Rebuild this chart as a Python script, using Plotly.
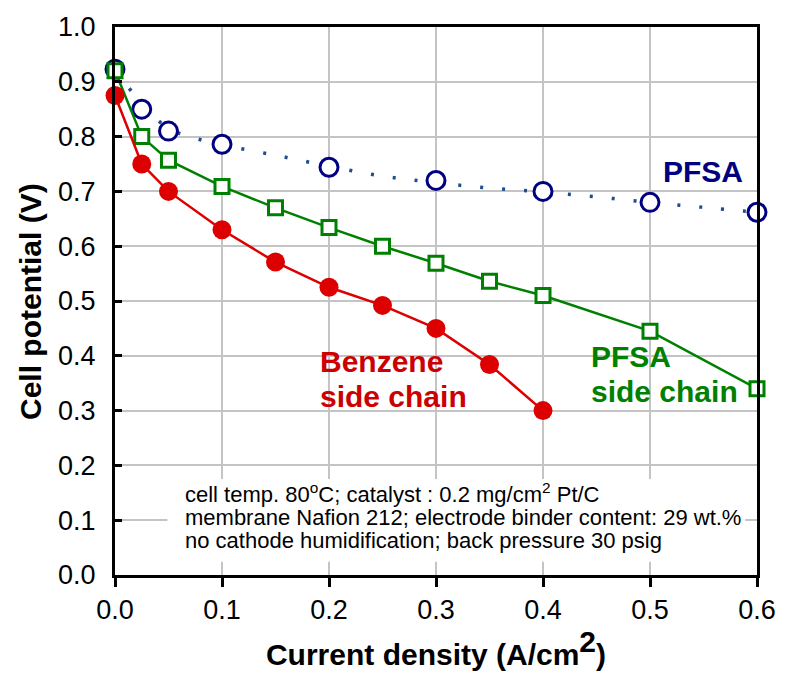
import plotly.graph_objects as go

# Data
pfsa_x = [0.0, 0.025, 0.05, 0.1, 0.2, 0.3, 0.4, 0.5, 0.6]
pfsa_y = [0.923, 0.850, 0.810, 0.786, 0.744, 0.720, 0.700, 0.680, 0.662]

trend_x = [0.0, 0.01, 0.025, 0.05, 0.075, 0.1, 0.15, 0.2, 0.25, 0.3, 0.35, 0.4, 0.45, 0.5, 0.55, 0.6]
trend_y = [0.918, 0.896, 0.860, 0.815, 0.797, 0.785, 0.766, 0.746, 0.728, 0.716, 0.706, 0.699, 0.690, 0.680, 0.671, 0.662]

pfsa_sc_x = [0.0, 0.025, 0.05, 0.1, 0.15, 0.2, 0.25, 0.3, 0.35, 0.4, 0.5, 0.6]
pfsa_sc_y = [0.920, 0.800, 0.757, 0.709, 0.670, 0.634, 0.600, 0.569, 0.536, 0.510, 0.445, 0.340]

benz_x = [0.0, 0.025, 0.05, 0.1, 0.15, 0.2, 0.25, 0.3, 0.35, 0.4]
benz_y = [0.875, 0.750, 0.700, 0.630, 0.571, 0.525, 0.492, 0.450, 0.384, 0.300]

x_ticks = [0.0, 0.1, 0.2, 0.3, 0.4, 0.5, 0.6]
y_ticks = [0.0, 0.1, 0.2, 0.3, 0.4, 0.5, 0.6, 0.7, 0.8, 0.9, 1.0]

note_lines = [
    "cell temp. 80<sup>o</sup>C; catalyst : 0.2 mg/cm<sup>2</sup> Pt/C",
    "membrane Nafion 212; electrode binder content: 29 wt.%",
    "no cathode humidification; back pressure 30 psig",
]

FONT = "Liberation Sans, Arial, sans-serif"
NAVY = "#000080"
GREEN = "#008000"
RED = "#DD0000"

fig = go.Figure()

fig.add_trace(go.Scatter(x=trend_x, y=trend_y, mode="lines",
                         line=dict(color="#1F4E8C", width=3.5, dash="3px,19px", shape="spline"),
                         hoverinfo="skip", cliponaxis=False))
fig.add_trace(go.Scatter(x=pfsa_x, y=pfsa_y, mode="markers",
                         marker=dict(symbol="circle", size=18, color="white",
                                     line=dict(color=NAVY, width=3)),
                         cliponaxis=False))
fig.add_trace(go.Scatter(x=pfsa_sc_x, y=pfsa_sc_y, mode="lines+markers",
                         line=dict(color=GREEN, width=2.5),
                         marker=dict(symbol="square", size=14, color="white",
                                     line=dict(color=GREEN, width=3)),
                         cliponaxis=False))
fig.add_trace(go.Scatter(x=benz_x, y=benz_y, mode="lines+markers",
                         line=dict(color=RED, width=2.5),
                         marker=dict(symbol="circle", size=19, color=RED,
                                     line=dict(color=RED, width=0)),
                         cliponaxis=False))

fig.update_layout(
    width=788, height=680,
    margin=dict(l=115, r=31, t=20, b=105),
    plot_bgcolor="white", paper_bgcolor="white",
    showlegend=False,
    font=dict(family=FONT, color="black", size=27),
)

fig.update_xaxes(range=[0, 0.6], tickvals=x_ticks, ticktext=[f"{v:.1f}" for v in x_ticks],
                 showgrid=True, gridcolor="#C4C4C4", gridwidth=2,
                 showline=True, linecolor="black", linewidth=3, mirror=True,
                 ticks="outside", ticklen=9, tickwidth=3, tickcolor="black",
                 tickfont=dict(size=27, family=FONT), zeroline=False,
                 title=dict(text="<b>Current density (A/cm<sup><span style='font-size:30px'>2</span></sup>)</b>",
                            font=dict(size=30, family=FONT), standoff=11))
fig.update_yaxes(range=[0, 1.0], tickvals=y_ticks, ticktext=[f"{v:.1f}" for v in y_ticks],
                 showgrid=True, gridcolor="#C4C4C4", gridwidth=2,
                 showline=True, linecolor="black", linewidth=3, mirror=True,
                 ticks="inside", ticklen=7, tickwidth=3, tickcolor="black",
                 ticklabelstandoff=11,
                 tickfont=dict(size=27, family=FONT), zeroline=False)

# y-axis title placed as an annotation for exact position
fig.add_annotation(x=-0.1324, y=0.5, xref="paper", yref="paper", xanchor="center", yanchor="middle",
                   text="<b>Cell potential (V)</b>", textangle=-90, showarrow=False,
                   font=dict(size=30, color="black", family=FONT))

# white box behind the note text
fig.add_shape(type="rect", xref="x", yref="y", x0=0.049, x1=0.589, y0=0.024, y1=0.175,
              fillcolor="white", line=dict(width=0), layer="between")

fig.add_annotation(x=0.589, y=0.736, xref="x", yref="y", xanchor="right", yanchor="middle",
                   text="<b>PFSA</b>", showarrow=False,
                   font=dict(size=30, color=NAVY, family=FONT))
fig.add_annotation(x=0.443, y=0.399, xref="x", yref="y", xanchor="left", yanchor="middle",
                   text="<b>PFSA</b>", showarrow=False,
                   font=dict(size=30, color=GREEN, family=FONT))
fig.add_annotation(x=0.443, y=0.335, xref="x", yref="y", xanchor="left", yanchor="middle",
                   text="<b>side chain</b>", showarrow=False,
                   font=dict(size=30, color=GREEN, family=FONT))
fig.add_annotation(x=0.190, y=0.389, xref="x", yref="y", xanchor="left", yanchor="middle",
                   text="<b>Benzene</b>", showarrow=False,
                   font=dict(size=30, color="#CC0000", family=FONT))
fig.add_annotation(x=0.190, y=0.326, xref="x", yref="y", xanchor="left", yanchor="middle",
                   text="<b>side chain</b>", showarrow=False,
                   font=dict(size=30, color="#CC0000", family=FONT))

for line_text, yy in zip(note_lines, [0.1495, 0.1044, 0.063]):
    fig.add_annotation(x=0.0636, y=yy, xref="x", yref="y", xanchor="left", yanchor="middle",
                       text=line_text, showarrow=False, align="left",
                       font=dict(size=22, color="black", family=FONT))

fig.write_html("out.html")
